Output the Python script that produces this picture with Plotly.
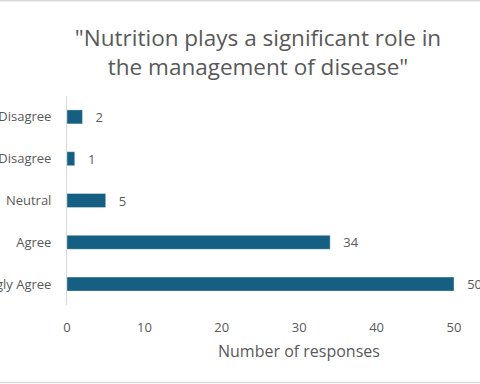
import plotly.graph_objects as go

categories = ["Strongly Agree", "Agree", "Neutral", "Disagree", "Strongly Disagree"]
responses = [50, 34, 5, 1, 2]
x_ticks = [0, 10, 20, 30, 40, 50]

TEXT = "#595959"
BAR = "#156082"
FONT = "Open Sans"

W, H = 480, 384
ML, MR, MT, MB = 67, 0, 96, 79
ph = H - MT - MB

fig = go.Figure(go.Bar(
    x=responses, y=categories, orientation="h",
    marker=dict(color=BAR, line=dict(color="rgba(255,255,255,0.6)", width=0.6)),
    text=responses, texttemplate="   %{x}", textposition="outside",
    cliponaxis=False, constraintext="none",
    textfont=dict(family=FONT, size=13, color=TEXT),
    hoverinfo="skip",
))

fig.update_layout(
    width=W, height=H,
    margin=dict(l=ML, r=MR, t=MT, b=MB, autoexpand=False),
    paper_bgcolor="white", plot_bgcolor="white",
    bargap=0.665,
    showlegend=False,
    title=dict(
        text='"Nutrition plays a significant role in<br>the management of disease"',
        x=258 / W, xanchor="center", xref="container",
        y=1 - 46 / H, yanchor="middle", yref="container",
        font=dict(family=FONT, size=22.5, color=TEXT),
    ),
    xaxis=dict(
        range=[0, (W - ML) / 7.74], tickvals=x_ticks, showgrid=False, zeroline=False,
        showline=False, ticks="outside", ticklen=10, tickcolor="rgba(0,0,0,0)",
        tickfont=dict(family=FONT, size=13, color=TEXT), fixedrange=True,
    ),
    yaxis=dict(
        showgrid=False, zeroline=False, showline=True, linecolor="#d9d9d9", linewidth=1,
        ticks="outside", ticklen=12, tickcolor="rgba(0,0,0,0)",
        tickfont=dict(family=FONT, size=13, color=TEXT), automargin=False,
    ),
    annotations=[dict(
        text="Number of responses", x=30, xref="x", y=-0.222, yref="paper",
        xanchor="center", yanchor="middle", showarrow=False,
        font=dict(family=FONT, size=16, color=TEXT),
    )],
    shapes=[
        dict(type="line", xref="paper", yref="paper", x0=0 - ML / (W - ML), x1=1,
             y0=1 + (MT - 0.75) / ph, y1=1 + (MT - 0.75) / ph,
             line=dict(color="#d9d9d9", width=1.5)),
        dict(type="line", xref="paper", yref="paper", x0=0 - ML / (W - ML), x1=1,
             y0=-(MB - 1.5) / ph, y1=-(MB - 1.5) / ph,
             line=dict(color="#d9d9d9", width=1.5)),
    ],
)

fig.write_html(
    "out.html",
    config={"displayModeBar": False, "staticPlot": False},
    post_script="document.body.style.margin='0';document.body.style.overflow='hidden';",
)
